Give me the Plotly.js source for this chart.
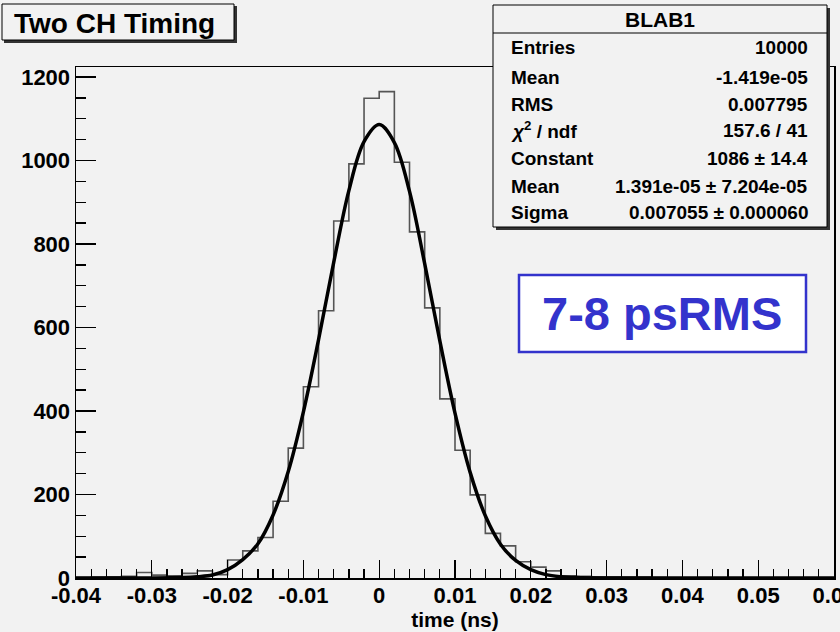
<!DOCTYPE html>
<html>
<head>
<meta charset="utf-8">
<script src="https://cdn.plot.ly/plotly-3.0.1.min.js"></script>
<style>html,body{margin:0;padding:0;background:#f2f2f2;}#chart{width:840px;height:632px;}</style>
</head>
<body>
<div id="chart"></div>
<script>
// ---- data ----
var binEdges = [-0.040,-0.038,-0.036,-0.034,-0.032,-0.030,-0.028,-0.026,-0.024,-0.022,
  -0.020,-0.018,-0.016,-0.014,-0.012,-0.010,-0.008,-0.006,-0.004,-0.002,
  0.000,0.002,0.004,0.006,0.008,0.010,0.012,0.014,0.016,0.018,
  0.020,0.022,0.024,0.026,0.028,0.030,0.032,0.034,0.036,0.038,
  0.040,0.042,0.044,0.046,0.048,0.050,0.052,0.054,0.056,0.058,0.060];
var binCounts = [1,2,3,4,13,7,5,11,17,8,
  43,65,97,184,311,458,640,855,992,1149,
  1165,996,829,647,429,306,199,107,77,39,
  26,17,5,4,3,3,2,2,1,0,
  0,0,0,0,0,0,0,0,0,0];
var fitX = [-0.040,-0.030,-0.026,-0.024,-0.022,-0.020,-0.018,-0.016,-0.014,-0.012,-0.010,-0.008,-0.006,-0.004,-0.002,
  0.000,0.002,0.004,0.006,0.008,0.010,0.012,0.014,0.016,0.018,0.020,0.022,0.024,0.026,0.030,0.060];
var fitY = [0,0,1,3,7,20,44,82,151,255,398,571,756,928,1045,
  1086,1043,926,753,568,395,253,149,81,42,20,8,3,1,0,0];
var xTickVals = [-0.04,-0.03,-0.02,-0.01,0,0.01,0.02,0.03,0.04,0.05,0.06];
var xTickText = ["-0.04","-0.03","-0.02","-0.01","0","0.01","0.02","0.03","0.04","0.05","0.06"];
var yTickVals = [0,200,400,600,800,1000,1200];
var yTickText = ["0","200","400","600","800","1000","1200"];
var statsLabels = ["Entries","Mean","RMS","<i>χ</i><sup>2</sup> / ndf","Constant","Mean","Sigma"];
var statsValues = ["10000","-1.419e-05","0.007795","157.6 / 41","1086 ± 14.4","1.391e-05 ± 7.204e-05","0.007055 ± 0.000060"];
var histName = "BLAB1";
var chartTitle = "Two CH Timing";
var noteText = "7-8 psRMS";

// ---- layout helpers (pixel -> paper) ----
var L = 76, R = 834, T = 67, B = 578;
function fx(px){ return (px - L) / (R - L); }
function fy(py){ return (B - py) / (B - T); }

// step histogram built from edges/counts
var hx = binEdges.slice();
var hy = binCounts.concat([binCounts[binCounts.length-1]]);

var FONT = '"Liberation Sans", Arial, Helvetica, sans-serif';
var traces = [
  {x: hx, y: hy, type:'scatter', mode:'lines', line:{shape:'hv', color:'#555555', width:1.6}, hoverinfo:'skip', showlegend:false},
  {x: fitX, y: fitY, type:'scatter', mode:'lines', line:{shape:'spline', smoothing:1, color:'#000000', width:3.5}, hoverinfo:'skip', showlegend:false}
];

var shapes = [
  {type:'rect', xref:'paper', yref:'paper', x0:fx(4), x1:fx(237), y0:fy(6), y1:fy(43), fillcolor:'#333', line:{width:0}, layer:'above'},
  {type:'rect', xref:'paper', yref:'paper', x0:fx(2), x1:fx(234), y0:fy(4), y1:fy(40), fillcolor:'#f2f2f2', line:{color:'#000', width:1}, layer:'above'},
  {type:'rect', xref:'paper', yref:'paper', x0:fx(496), x1:fx(830), y0:fy(8), y1:fy(230), fillcolor:'#333', line:{width:0}, layer:'above'},
  {type:'rect', xref:'paper', yref:'paper', x0:fx(493), x1:fx(827), y0:fy(5), y1:fy(227), fillcolor:'#f2f2f2', line:{color:'#000', width:1}, layer:'above'},
  {type:'line', xref:'paper', yref:'paper', x0:fx(493), x1:fx(827), y0:fy(33), y1:fy(33), line:{color:'#000', width:1}, layer:'above'},
  {type:'rect', xref:'paper', yref:'paper', x0:fx(519), x1:fx(806), y0:fy(275), y1:fy(352), fillcolor:'#ffffff', line:{color:'#3333cc', width:2.5}, layer:'above'}
];

var annotations = [
  {xref:'paper', yref:'paper', x:fx(12), y:fy(23), xanchor:'left', yanchor:'middle', showarrow:false, text:chartTitle, font:{family:FONT, size:28, weight:'bold', color:'#000'}},
  {xref:'paper', yref:'paper', x:fx(660), y:fy(19), xanchor:'center', yanchor:'middle', showarrow:false, text:histName, font:{family:FONT, size:21, weight:'bold', color:'#000'}},
  {xref:'paper', yref:'paper', x:fx(662), y:fy(313), xanchor:'center', yanchor:'middle', showarrow:false, text:noteText, font:{family:FONT, size:47, weight:'bold', color:'#3333cc'}}
];
var rowY = [48, 77, 104, 130, 158, 186, 212];
for (var i = 0; i < statsLabels.length; i++) {
  annotations.push({xref:'paper', yref:'paper', x:fx(509), y:fy(rowY[i]), xanchor:'left', yanchor:'middle', showarrow:false, text:statsLabels[i], font:{family:FONT, size:19, weight:'bold', color:'#000'}});
  annotations.push({xref:'paper', yref:'paper', x:fx(810), y:fy(rowY[i]), xanchor:'right', yanchor:'middle', showarrow:false, text:statsValues[i], font:{family:FONT, size:19, weight:'bold', color:'#000'}});
}

var layout = {
  width: 840, height: 632,
  margin: {l: L, r: 840 - R, t: T, b: 632 - B, pad: 0},
  paper_bgcolor: '#f2f2f2', plot_bgcolor: '#f2f2f2',
  showlegend: false,
  xaxis: {
    range: [-0.04, 0.0600001], tickmode:'array', tickvals: xTickVals, ticktext: xTickText,
    ticks:'inside', ticklen:18, tickwidth:1.3, tickcolor:'#000', ticklabeloverflow:'allow', ticklabelstandoff:-3,
    minor: {tickmode:'linear', tick0:-0.04, dtick:0.002, ticks:'inside', ticklen:9, tickwidth:1.3, tickcolor:'#000'},
    showline:true, linecolor:'#000', linewidth:1.5, mirror:true,
    showgrid:false, zeroline:false, automargin:false,
    tickfont:{family:FONT, size:22, weight:'bold', color:'#000'},
    title:{text:'time (ns)', font:{family:FONT, size:21, weight:'bold', color:'#000'}, standoff:4}
  },
  yaxis: {
    range: [0, 1224], tickmode:'array', tickvals: yTickVals, ticktext: yTickText,
    ticks:'inside', ticklen:20, tickwidth:1.3, tickcolor:'#000', ticklabeloverflow:'allow',
    minor: {tickmode:'linear', tick0:0, dtick:50, ticks:'inside', ticklen:10, tickwidth:1.3, tickcolor:'#000'},
    showline:true, linecolor:'#000', linewidth:1.5, mirror:true,
    showgrid:false, zeroline:false, automargin:false,
    tickfont:{family:FONT, size:22, weight:'bold', color:'#000'}
  },
  shapes: shapes,
  annotations: annotations
};

Plotly.newPlot('chart', traces, layout, {staticPlot:true, displayModeBar:false});
</script>
</body>
</html>
